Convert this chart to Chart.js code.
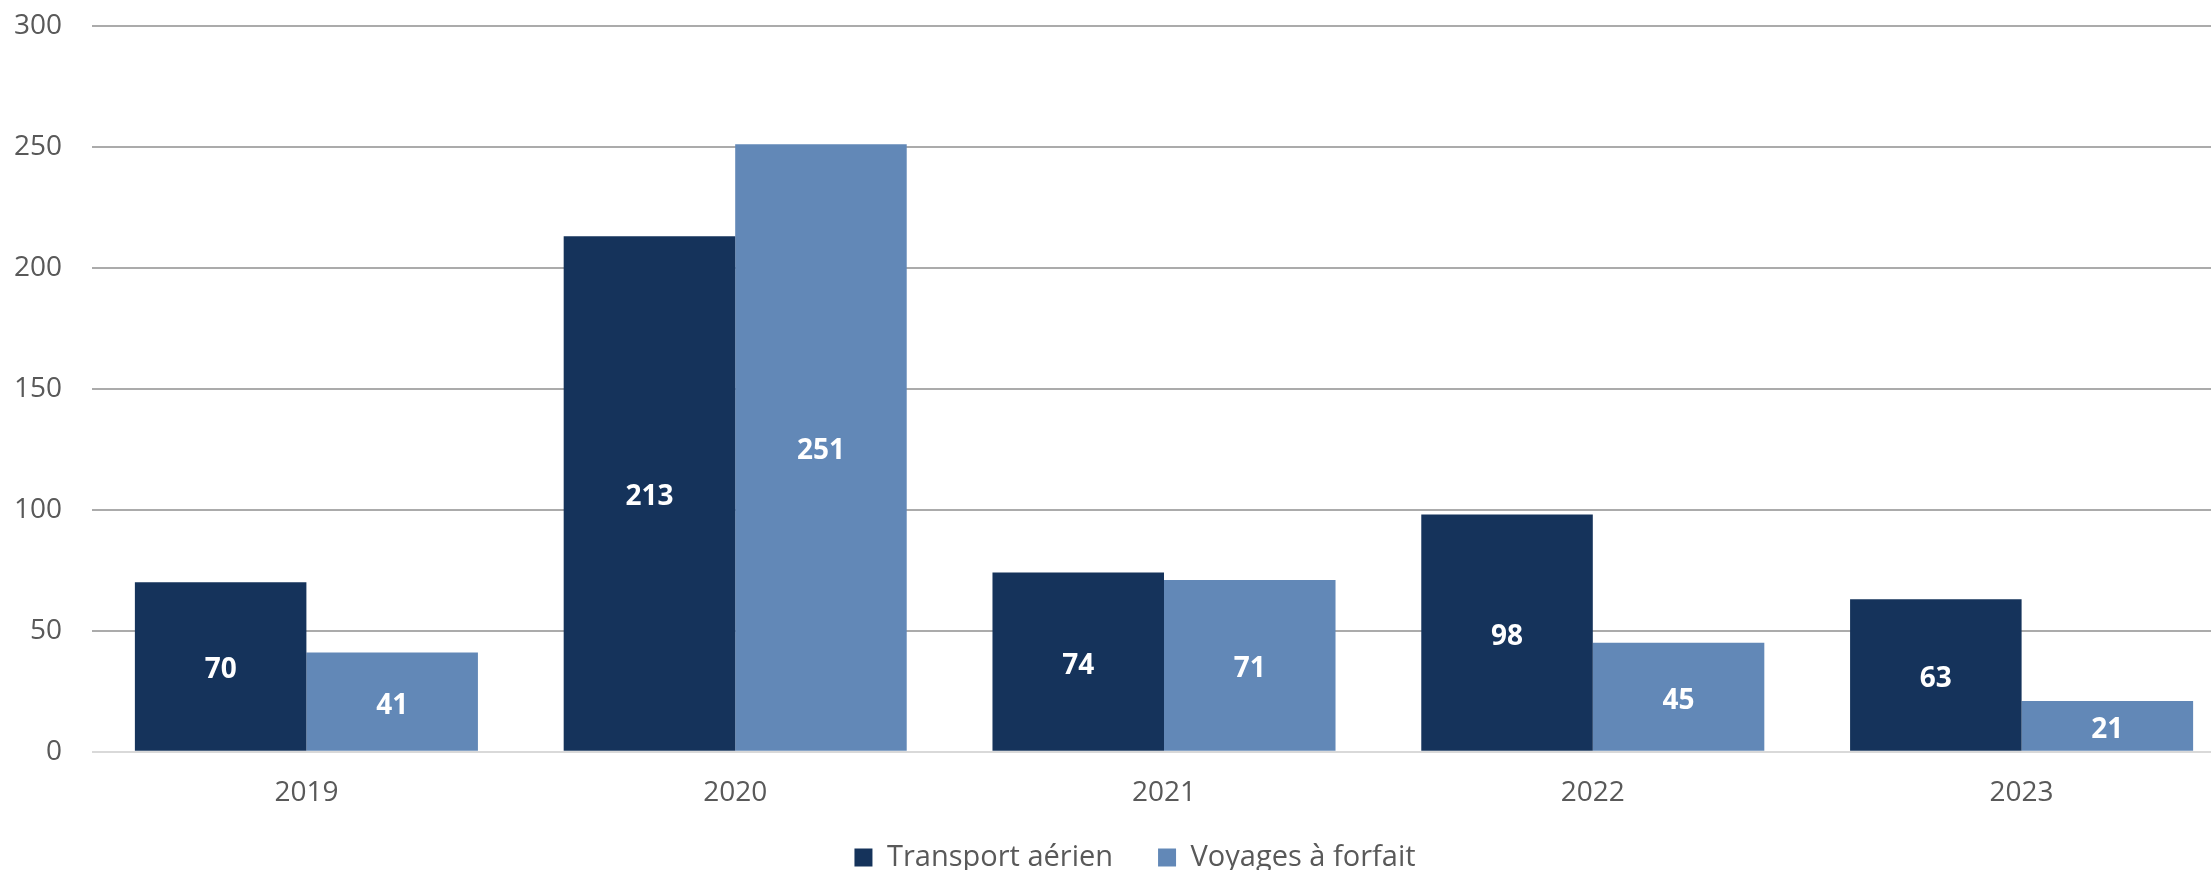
<!DOCTYPE html>
<html>
<head>
<meta charset="utf-8">
<script src="https://cdn.jsdelivr.net/npm/chart.js@4.4.1/dist/chart.umd.min.js"></script>
<style>
  html, body { margin: 0; padding: 0; background: #ffffff; overflow: hidden; }
  #wrap { position: relative; width: 2240px; height: 870px; }
</style>
</head>
<body>
<div id="wrap"><canvas id="c" width="2240" height="870"></canvas></div>
<script>
const categories = ['2019', '2020', '2021', '2022', '2023'];
const transportAerien = [70, 213, 74, 98, 63];
const voyagesForfait = [41, 251, 71, 45, 21];
const seriesNames = ['Transport aérien', 'Voyages à forfait'];
const yTicks = [0, 50, 100, 150, 200, 250, 300];

const DARK = '#15335B';
const LIGHT = '#6288B7';
const TEXT = '#595959';
const FONT = '"Open Sans", "Liberation Sans", sans-serif';

const barLabels = {
  id: 'barLabels',
  afterDatasetsDraw(chart) {
    const ctx = chart.ctx;
    ctx.save();
    ctx.fillStyle = '#ffffff';
    ctx.font = 'bold 28px ' + FONT;
    ctx.textAlign = 'center';
    ctx.textBaseline = 'middle';
    chart.data.datasets.forEach((ds, i) => {
      const meta = chart.getDatasetMeta(i);
      meta.data.forEach((el, j) => {
        const p = el.getProps(['x', 'y', 'base'], true);
        ctx.fillText(String(ds.data[j]), p.x, (p.y + p.base) / 2 + 4);
      });
    });
    ctx.restore();
  }
};

const legendPlace = {
  id: 'legendPlace',
  afterUpdate(chart) {
    const lg = chart.legend;
    if (!lg) return;
    const h = lg.bottom - lg.top;
    lg.left = 0;
    lg.right = 2270;
    lg.top = 857 - 45 - 14;
    lg.bottom = lg.top + h;
  }
};

new Chart(document.getElementById('c'), {
  type: 'bar',
  data: {
    labels: categories,
    datasets: [
      { label: seriesNames[0], data: transportAerien, backgroundColor: DARK, borderWidth: 0 },
      { label: seriesNames[1], data: voyagesForfait, backgroundColor: LIGHT, borderWidth: 0 }
    ]
  },
  options: {
    responsive: false,
    animation: false,
    devicePixelRatio: 1,
    layout: { padding: { top: 25.7, left: 0, right: 4, bottom: -25.7 } },
    datasets: { bar: { categoryPercentage: 0.8, barPercentage: 1.0 } },
    scales: {
      x: {
        grid: { display: false, drawTicks: false },
        border: { display: false },
        ticks: { color: TEXT, font: { family: FONT, size: 28 }, padding: 25 },
        afterFit(scale) { scale.height = 60; scale.paddingLeft = 0; scale.paddingRight = 0; }
      },
      y: {
        min: 0, max: 300,
        afterBuildTicks(scale) { scale.ticks = yTicks.map(v => ({ value: v })); },
        grid: {
          drawTicks: false,
          lineWidth: 2,
          color: (c) => (c.tick && c.tick.value === 0) ? '#D9D9D9' : '#ABABAB'
        },
        border: { display: false },
        ticks: { color: TEXT, font: { family: FONT, size: 28 }, padding: 30 },
        afterFit(scale) { scale.width = 92; scale.paddingTop = 0; scale.paddingBottom = 0; }
      }
    },
    plugins: {
      legend: {
        position: 'bottom',
        labels: {
          color: TEXT,
          font: { family: FONT, size: 29 },
          boxWidth: 18,
          boxHeight: 18,
          padding: 45
        }
      },
      tooltip: { enabled: false }
    }
  },
  plugins: [barLabels, legendPlace]
});
</script>
</body>
</html>
